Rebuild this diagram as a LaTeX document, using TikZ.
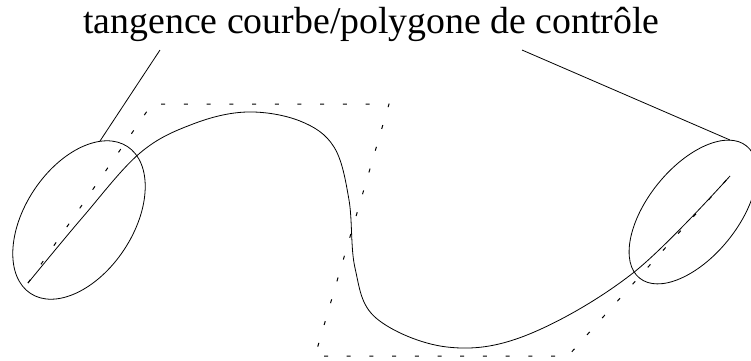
\documentclass[tikz,border=0pt]{standalone}
\usepackage{fontspec}
\setmainfont{Liberation Serif}

\begin{document}
\begin{tikzpicture}[x=1pt,y=-1pt,line width=0.8pt,
	ctrl/.style={line width=1pt,dash pattern=on 4pt off 18.7pt}]

\useasboundingbox (0,0) rectangle (751,360);

\node[anchor=base,inner sep=0,font=\fontsize{37.8}{40}\selectfont] (titre) at (371.5,33) {tangence courbe/polygone de contrôle};

\draw[ctrl] (28,283) -- (152,104) -- (389,104) -- (315,356) -- (568,356) -- (730,176);

\draw plot[smooth,tension=0.6] coordinates {(28,283) (82,218) (140,153) (193,124) (247,112) (300,121) (334,147) (349,200) (355,268) (376,318) (447,347) (527,335) (633,273) (730,176)};

\draw[rotate around={56.5:(79,220)}] (79,220) ellipse [x radius=88pt,y radius=54pt];
\draw[rotate around={51:(693,212)}] (693,212) ellipse [x radius=85pt,y radius=45pt];

\coordinate (g1) at (160,50);
\coordinate (g2) at (100,141);
\coordinate (d1) at (522,50);
\coordinate (d2) at (730,140);
\draw (g1) -- (g2);
\draw (d1) -- (d2);

\end{tikzpicture}
\end{document}
